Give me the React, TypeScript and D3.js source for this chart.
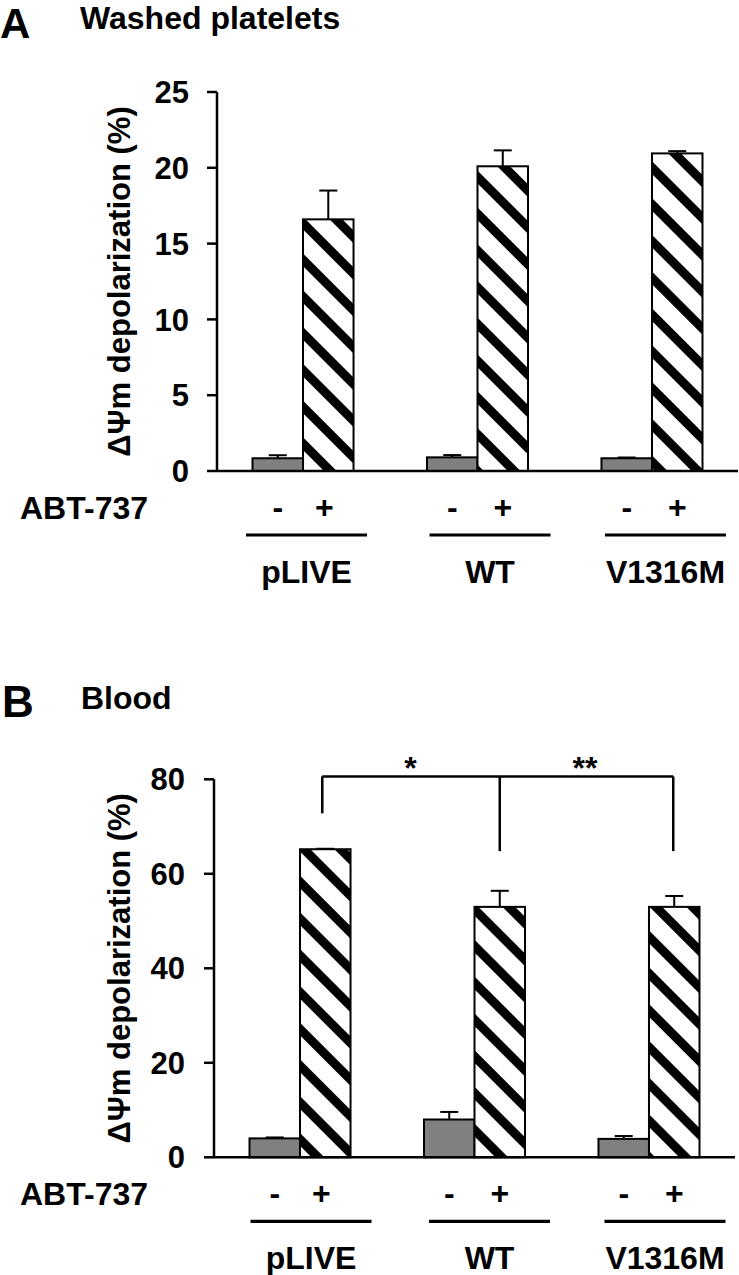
import React from "react";
import * as d3 from "d3";

// ---- data ----
const groups = ["pLIVE", "WT", "V1316M"];
const treatments = ["-", "+"];

const washedControl = [0.84, 0.9, 0.84];
const washedControlErr = [0.2, 0.15, 0.05];
const washedABT = [16.6, 20.1, 20.95];
const washedABTErr = [1.9, 1.05, 0.15];
const washedTicks = [0, 5, 10, 15, 20, 25];

const bloodControl = [4.0, 8.0, 3.9];
const bloodControlErr = [0.2, 1.6, 0.6];
const bloodABT = [65.2, 53.0, 53.0];
const bloodABTErr = [0.1, 3.4, 2.3];
const bloodTicks = [0, 20, 40, 60, 80];

const bloodBracketLevel = 80.6;
const bloodBracketLegEnds = [72.8, 64.8, 64.8];
const bloodStars = ["*", "**"];

const yLabel = "ΔΨm depolarization (%)";
const rowLabel = "ABT-737";

const FONT = "'Liberation Sans', Arial, Helvetica, sans-serif";

type Cfg = {
  letter: string;
  title: string;
  letterX: number;
  letterY: number;
  letterSize: number;
  titleX: number;
  titleY: number;
  axisX: number;
  xEnd: number;
  yBase: number;
  yTop: number;
  max: number;
  ticks: number[];
  tickLabelX: number;
  control: number[];
  controlErr: number[];
  abt: number[];
  abtErr: number[];
  labelShift: number[];
  bracket?: boolean;
};

function Panel({ cfg }: { cfg: Cfg }) {
  const x = d3
    .scaleBand<string>()
    .domain(groups)
    .range([cfg.axisX, cfg.xEnd])
    .paddingInner(0.421)
    .paddingOuter(0.2035);
  const sub = d3.scaleBand<string>().domain(treatments).range([0, x.bandwidth()]);
  const y = d3.scaleLinear().domain([0, cfg.max]).range([cfg.yBase, cfg.yTop]);

  const cx = (g: string, t: string) => (x(g) as number) + (sub(t) as number) + sub.bandwidth() / 2;
  const capW = 18;

  const bars: any[] = [];
  groups.forEach((g, i) => {
    treatments.forEach((t) => {
      const v = t === "-" ? cfg.control[i] : cfg.abt[i];
      const e = t === "-" ? cfg.controlErr[i] : cfg.abtErr[i];
      const bx = (x(g) as number) + (sub(t) as number);
      const c = cx(g, t);
      bars.push(
        <g key={g + t}>
          <line x1={c} x2={c} y1={y(v)} y2={y(v + e)} stroke="#000" strokeWidth={2} />
          <line x1={c - capW / 2} x2={c + capW / 2} y1={y(v + e)} y2={y(v + e)} stroke="#000" strokeWidth={2} />
          <rect
            x={bx}
            y={y(v)}
            width={sub.bandwidth()}
            height={y(0) - y(v)}
            fill={t === "-" ? "#808080" : "url(#hatch)"}
            stroke="#000"
            strokeWidth={2}
          />
        </g>
      );
    });
  });

  const yMid = (y(0) + y(cfg.max)) / 2;

  return (
    <g fontFamily={FONT} fontWeight="bold">
      <text x={cfg.letterX} y={cfg.letterY} fontSize={cfg.letterSize}>
        {cfg.letter}
      </text>
      <text x={cfg.titleX} y={cfg.titleY} fontSize={32}>
        {cfg.title}
      </text>

      {/* y axis */}
      <line x1={cfg.axisX} x2={cfg.axisX} y1={y(cfg.max)} y2={y(0)} stroke="#000" strokeWidth={2.5} />
      {cfg.ticks.map((t) => (
        <g key={t}>
          <line x1={cfg.axisX - 10} x2={cfg.axisX} y1={y(t)} y2={y(t)} stroke="#000" strokeWidth={2.5} />
          <text x={cfg.tickLabelX} y={y(t)} dy="0.36em" textAnchor="end" fontSize={31}>
            {t}
          </text>
        </g>
      ))}
      <text transform={`translate(130,${yMid}) rotate(-90)`} textAnchor="middle" fontSize={31}>
        {yLabel}
      </text>

      {bars}

      {/* x baseline */}
      <line x1={cfg.axisX} x2={cfg.xEnd} y1={y(0)} y2={y(0)} stroke="#000" strokeWidth={2.5} />

      {/* treatment row */}
      <text x={20} y={y(0) + 48} fontSize={32}>
        {rowLabel}
      </text>
      {groups.map((g, i) => {
        const center = (x(g) as number) + x.bandwidth() / 2 + cfg.labelShift[i];
        return (
          <g key={g}>
            {treatments.map((t) => (
              <text key={t} x={cx(g, t) + (t === "+" && i === 0 ? -4 : 0)} y={y(0) + 47} textAnchor="middle" fontSize={32}>
                {t}
              </text>
            ))}
            <line x1={center - 60.5} x2={center + 60.5} y1={y(0) + 64} y2={y(0) + 64} stroke="#000" strokeWidth={3.2} />
            <text x={center} y={y(0) + 112} textAnchor="middle" fontSize={32}>
              {g}
            </text>
          </g>
        );
      })}

      {cfg.bracket && (
        <g>
          <line
            x1={cx(groups[0], "+") - 3}
            x2={cx(groups[2], "+") - 1}
            y1={y(bloodBracketLevel)}
            y2={y(bloodBracketLevel)}
            stroke="#000"
            strokeWidth={2.5}
          />
          {groups.map((g, i) => {
            const lx = cx(g, "+") + (i === 0 ? -3 : i === 2 ? -1 : 0);
            return (
              <line
                key={g}
                x1={lx}
                x2={lx}
                y1={y(bloodBracketLevel)}
                y2={y(bloodBracketLegEnds[i])}
                stroke="#000"
                strokeWidth={2.5}
              />
            );
          })}
          {bloodStars.map((s, i) => {
            const mx = (cx(groups[i], "+") + cx(groups[i + 1], "+")) / 2 - 2;
            return (
              <text key={i} x={mx} y={y(bloodBracketLevel) + 3} textAnchor="middle" fontSize={32}>
                {s}
              </text>
            );
          })}
        </g>
      )}
    </g>
  );
}

const panelA: Cfg = {
  letter: "A",
  title: "Washed platelets",
  letterX: 0,
  letterY: 38,
  letterSize: 42,
  titleX: 80,
  titleY: 29,
  axisX: 217,
  xEnd: 738,
  yBase: 471,
  yTop: 92,
  max: 25,
  ticks: washedTicks,
  tickLabelX: 189,
  control: washedControl,
  controlErr: washedControlErr,
  abt: washedABT,
  abtErr: washedABTErr,
  labelShift: [3.5, 12.5, 13.5],
};

const panelB: Cfg = {
  letter: "B",
  title: "Blood",
  letterX: 2,
  letterY: 717,
  letterSize: 44,
  titleX: 81,
  titleY: 709,
  axisX: 214,
  xEnd: 735,
  yBase: 1157.3,
  yTop: 779.3,
  max: 80,
  ticks: bloodTicks,
  tickLabelX: 185,
  control: bloodControl,
  controlErr: bloodControlErr,
  abt: bloodABT,
  abtErr: bloodABTErr,
  labelShift: [11, 15, 16],
  bracket: true,
};

export default function App() {
  return (
    <svg
      width={739}
      height={1275}
      viewBox="0 0 739 1275"
      style={{ position: "absolute", left: 0, top: 0, display: "block", background: "#fff" }}
    >
      <defs>
        <pattern id="hatch" patternUnits="userSpaceOnUse" width={26} height={26} patternTransform="rotate(-45)">
          <rect x={0} y={0} width={26} height={26} fill="#fff" />
          <rect x={0} y={0} width={9} height={26} fill="#000" />
        </pattern>
      </defs>
      <rect x={0} y={0} width={739} height={1275} fill="#fff" />
      <Panel cfg={panelA} />
      <Panel cfg={panelB} />
    </svg>
  );
}
